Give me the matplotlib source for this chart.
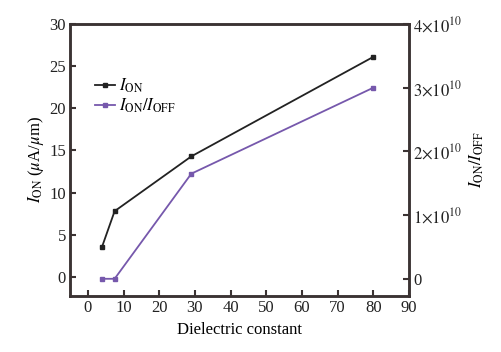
import matplotlib
matplotlib.use("Agg")
import matplotlib.pyplot as plt
from matplotlib.ticker import FixedLocator

plt.rcParams['font.family'] = ['Liberation Serif', 'DejaVu Serif']
plt.rcParams['mathtext.fontset'] = 'stix'

# data
eps = [4, 7.5, 29, 80]
i_on = [3.6, 7.8, 14.3, 26.1]
ratio = [0.0, 0.0, 1.65e10, 3.0e10]

x_ticks = [0, 10, 20, 30, 40, 50, 60, 70, 80, 90]
left_ticks = [0, 5, 10, 15, 20, 25, 30]
right_ticks = [0, 1e10, 2e10, 3e10, 4e10]
right_labels = ['0', r'$1{\times}10^{10}$', r'$2{\times}10^{10}$',
                r'$3{\times}10^{10}$', r'$4{\times}10^{10}$']

frame = '#3b3333'
black = '#222222'
purple = '#7658ac'

fig = plt.figure(figsize=(5.01, 3.52), dpi=100)
ax = fig.add_axes([70/501, 1-296/352, (409-70)/501, (296-24)/352])
ax2 = ax.twinx()

l1, = ax.plot(eps, i_on, color=black, marker='s', ms=3.5, lw=1.3,
              label=r'$\mathit{I}_{\rm ON}$')
l2, = ax2.plot(eps, ratio, color=purple, marker='s', ms=3.5, lw=1.3,
               label=r'$\mathit{I}_{\rm ON}/\mathit{I}_{\rm OFF}$')

ax.set_xlim(-5, 90)
ax.set_ylim(-2.26, 30)
ax2.set_ylim(-0.27e10, 4e10)
ax.set_xticks(x_ticks)
ax.set_yticks(left_ticks)
ax2.yaxis.set_major_locator(FixedLocator(right_ticks))
ax2.set_yticklabels(right_labels)

for a in (ax, ax2):
    for s in a.spines.values():
        s.set_color(frame)
        s.set_linewidth(1.8)
    a.tick_params(direction='in', length=4, width=1.5, color=frame,
                  labelsize=12, labelcolor='#222222', pad=3)

ax.set_xlabel('Dielectric constant', fontsize=12, labelpad=4)
ax.set_ylabel(r'$\mathit{I}_{\rm ON}$ ($\mu$A/$\mu$m)', fontsize=12, labelpad=2)
ax2.set_ylabel(r'$\mathit{I}_{\rm ON}/\mathit{I}_{\rm OFF}$', fontsize=12, labelpad=4)

ax.legend(handles=[l1, l2], loc='upper left', bbox_to_anchor=(0.055, 0.83),
          frameon=False, fontsize=12, handlelength=1.2, handletextpad=0.2,
          labelspacing=0.1, borderaxespad=0)

fig.savefig('out.png', dpi=100)
